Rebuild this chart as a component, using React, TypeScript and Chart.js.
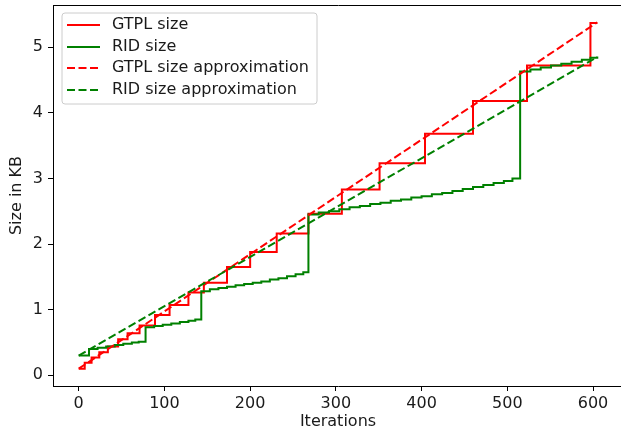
import React, { useEffect, useRef } from "react";
import { Chart, registerables } from "chart.js";

Chart.register(...registerables);

// ---- data ----
const gtplX = [0, 7, 15, 24, 34, 46, 57, 71, 89, 106, 128, 146, 173, 200, 231, 268, 307, 351, 404, 460, 523, 597, 605];
const gtplY = [0.1, 0.19, 0.27, 0.35, 0.44, 0.55, 0.64, 0.76, 0.92, 1.07, 1.26, 1.41, 1.65, 1.88, 2.16, 2.46, 2.83, 3.23, 3.68, 4.18, 4.72, 5.37, 5.37];

const ridX = [0, 12, 22, 32, 42, 52, 62, 70, 78, 88, 98, 108, 118, 128, 136, 143, 153, 163, 173, 183, 193, 203, 213, 223, 233, 243, 253, 262, 268, 280, 292, 304, 316, 328, 340, 352, 364, 376, 388, 400, 412, 424, 436, 448, 460, 472, 484, 496, 506, 515, 527, 539, 551, 563, 575, 587, 597, 605];
const ridY = [0.3, 0.4, 0.42, 0.44, 0.46, 0.48, 0.5, 0.51, 0.73, 0.75, 0.77, 0.79, 0.81, 0.83, 0.85, 1.28, 1.31, 1.33, 1.35, 1.37, 1.39, 1.41, 1.43, 1.46, 1.48, 1.51, 1.54, 1.57, 2.45, 2.48, 2.5, 2.53, 2.56, 2.58, 2.61, 2.63, 2.66, 2.68, 2.71, 2.73, 2.76, 2.78, 2.81, 2.84, 2.87, 2.9, 2.93, 2.96, 3.0, 4.63, 4.66, 4.69, 4.72, 4.75, 4.78, 4.81, 4.84, 4.86];

const approxX = [0, 605];
const gtplApproxY = [0.1, 5.38];
const ridApproxY = [0.3, 4.85];

const xTicks = [0, 100, 200, 300, 400, 500, 600];
const yTicks = [0, 1, 2, 3, 4, 5];

const seriesNames = ["GTPL size", "RID size", "GTPL size approximation", "RID size approximation"];

const FONT = "DejaVu Sans";
const FS = 16;
const TEXT = "#1a1a1a";

const toPts = (xs: number[], ys: number[]) => xs.map((x, i) => ({ x, y: ys[i] }));

const framePlugin = {
  id: "frame",
  afterDraw(chart: any) {
    const { ctx, chartArea } = chart;
    ctx.save();
    ctx.strokeStyle = "#000";
    ctx.lineWidth = 1;
    ctx.beginPath();
    ctx.moveTo(Math.round(chartArea.left) + 0.5, Math.round(chartArea.top) + 0.5);
    ctx.lineTo(Math.round(chartArea.right) + 0.5, Math.round(chartArea.top) + 0.5);
    ctx.lineTo(Math.round(chartArea.right) + 0.5, Math.round(chartArea.bottom) + 0.5);
    ctx.stroke();
    ctx.restore();
  },
};

const legendPlugin = {
  id: "mplLegend",
  afterDatasetsDraw(chart: any) {
    const { ctx } = chart;
    const x0 = 62, y0 = 13, w = 255, h = 91, r = 3;
    ctx.save();
    ctx.beginPath();
    ctx.moveTo(x0 + r, y0);
    ctx.lineTo(x0 + w - r, y0);
    ctx.arcTo(x0 + w, y0, x0 + w, y0 + r, r);
    ctx.lineTo(x0 + w, y0 + h - r);
    ctx.arcTo(x0 + w, y0 + h, x0 + w - r, y0 + h, r);
    ctx.lineTo(x0 + r, y0 + h);
    ctx.arcTo(x0, y0 + h, x0, y0 + h - r, r);
    ctx.lineTo(x0, y0 + r);
    ctx.arcTo(x0, y0, x0 + r, y0, r);
    ctx.closePath();
    ctx.fillStyle = "rgba(255,255,255,0.8)";
    ctx.fill();
    ctx.strokeStyle = "#cccccc";
    ctx.lineWidth = 1;
    ctx.stroke();
    const rows = [25, 47, 68, 90];
    chart.data.datasets.forEach((ds: any, i: number) => {
      const y = rows[i];
      ctx.beginPath();
      ctx.setLineDash(ds.borderDash || []);
      ctx.strokeStyle = ds.borderColor;
      ctx.lineWidth = ds.borderWidth;
      ctx.moveTo(67, y);
      ctx.lineTo(100, y);
      ctx.stroke();
      ctx.setLineDash([]);
      ctx.fillStyle = TEXT;
      ctx.font = `${FS}px "${FONT}"`;
      ctx.textBaseline = "middle";
      ctx.textAlign = "left";
      ctx.fillText(ds.label, 112, y);
    });
    ctx.restore();
  },
};

export default function App() {
  const ref = useRef<HTMLCanvasElement | null>(null);
  useEffect(() => {
    document.body.style.margin = "0";
    document.body.style.overflow = "hidden";
    if (!ref.current) return;
    const dash = [8, 3.5];
    const chart = new Chart(ref.current, {
      type: "line",
      data: {
        datasets: [
          { label: seriesNames[0], data: toPts(gtplX, gtplY), borderColor: "#ff0000", borderWidth: 2, stepped: true, pointRadius: 0, fill: false, order: 3 },
          { label: seriesNames[1], data: toPts(ridX, ridY), borderColor: "#008000", borderWidth: 2, stepped: true, pointRadius: 0, fill: false, order: 2 },
          { label: seriesNames[2], data: toPts(approxX, gtplApproxY), borderColor: "#ff0000", borderWidth: 2, borderDash: dash, pointRadius: 0, fill: false, order: 1 },
          { label: seriesNames[3], data: toPts(approxX, ridApproxY), borderColor: "#008000", borderWidth: 2, borderDash: dash, pointRadius: 0, fill: false, order: 0 },
        ],
      },
      options: {
        animation: false,
        responsive: false,
        devicePixelRatio: 1,
        layout: { padding: { top: 5, right: 37, left: 0, bottom: 0 } },
        plugins: { legend: { display: false }, tooltip: { enabled: false } },
        scales: {
          x: {
            type: "linear",
            min: -30,
            max: 635,
            afterBuildTicks: (s: any) => { s.ticks = xTicks.map((v) => ({ value: v })); },
            afterFit: (s: any) => { s.height = 46; s.paddingLeft = 0; s.paddingRight = 0; },
            ticks: { font: { family: FONT, size: FS }, color: TEXT, padding: 3, maxRotation: 0, autoSkip: false },
            grid: { display: true, drawOnChartArea: false, drawTicks: true, tickLength: 5, color: "#000" },
            border: { display: true, color: "#000", width: 1 },
            title: { display: true, text: "Iterations", font: { family: FONT, size: FS }, color: TEXT, padding: { top: 0, bottom: 1 } },
          },
          y: {
            type: "linear",
            min: -0.164,
            max: 5.644,
            afterBuildTicks: (s: any) => { s.ticks = yTicks.map((v) => ({ value: v })); },
            afterFit: (s: any) => { s.width = 53; s.paddingTop = 0; s.paddingBottom = 0; },
            ticks: { font: { family: FONT, size: FS }, color: TEXT, padding: 5, autoSkip: false },
            grid: { display: true, drawOnChartArea: false, drawTicks: true, tickLength: 5, color: "#000" },
            border: { display: true, color: "#000", width: 1 },
            title: { display: true, text: "Size in KB", font: { family: FONT, size: FS }, color: TEXT, padding: { top: 7, bottom: 0 } },
          },
        },
      },
      plugins: [framePlugin, legendPlugin],
    } as any);
    return () => chart.destroy();
  }, []);
  return (
    <div style={{ position: "fixed", left: 0, top: 0, width: 621, height: 432, overflow: "hidden", background: "#fff" }}>
      <canvas ref={ref} width={660} height={432} style={{ display: "block" }} />
    </div>
  );
}
